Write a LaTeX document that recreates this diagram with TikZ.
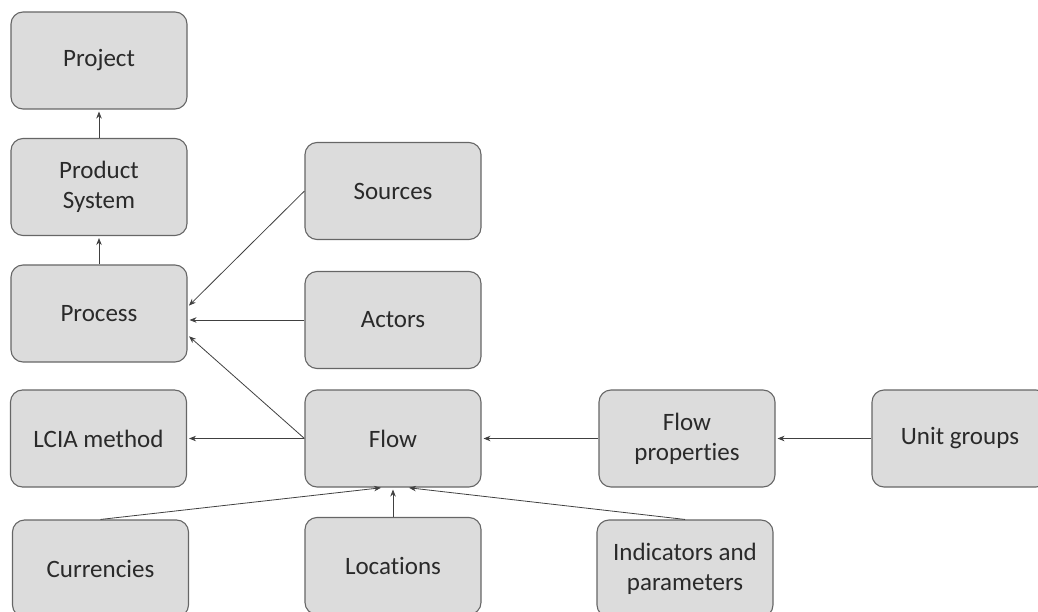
\documentclass[tikz,border=0pt]{standalone}
\usepackage{fontspec}
\setmainfont{Carlito}[RawFeature={-liga;-clig;-dlig;-calt}]
\usetikzlibrary{arrows.meta}
\definecolor{boxfill}{HTML}{DCDCDC}
\definecolor{boxline}{HTML}{666666}
\definecolor{txt}{HTML}{2A2A2A}
\definecolor{arr}{HTML}{404040}
\begin{document}
\begin{tikzpicture}[x=1pt,y=-1pt,
  box/.style={draw=boxline, fill=boxfill, line width=1.1pt, rounded corners=12pt,
    minimum width=176pt, minimum height=97pt, inner sep=0pt, align=center,
    text=txt, font=\fontsize{25}{30}\selectfont},
  conn/.style={draw=arr, line width=0.8pt, -{Stealth[length=7pt,width=5.5pt]}, shorten >=2pt}]
\useasboundingbox (0,0) rectangle (1038,612);
\clip (0,0) rectangle (1038,612);
\node[box] (project) at (99,60.5) {Project};
\node[box] (prodsys) at (99,187) {Product\\System};
\node[box] (process) at (99,313.5) {Process};
\node[box] (lcia) at (98.5,438.5) {LCIA method};
\node[box] (curr) at (100.5,568.5) {Currencies};
\node[box] (sources) at (393,191) {Sources};
\node[box] (actors) at (393,320) {Actors};
\node[box] (flow) at (393,438.5) {Flow};
\node[box] (loc) at (393,566) {Locations};
\node[box] (flowprop) at (687,438.5) {Flow\\properties};
\node[box] (ind) at (685,568.5) {Indicators and\\parameters};
\node[box] (unit) at (960,438.5) {Unit groups};
\draw[conn] (prodsys.north) -- (project.south);
\draw[conn] (process.north) -- (prodsys.south);
\draw[conn] (sources.west) -- ([yshift=6.5pt]process.east);
\draw[conn] (actors.west) -- (actors.west -| process.east);
\draw[conn] (flow.west) -- ([yshift=-21.5pt]process.east);
\draw[conn] (flow.west) -- (lcia.east);
\draw[conn] (flowprop.west) -- (flow.east);
\draw[conn] (unit.west) -- (flowprop.east);
\draw[conn] (curr.north) -- ([xshift=-10pt]flow.south);
\draw[conn] (loc.north) -- (flow.south);
\draw[conn] (ind.north) -- ([xshift=14pt]flow.south);
\end{tikzpicture}
\end{document}
